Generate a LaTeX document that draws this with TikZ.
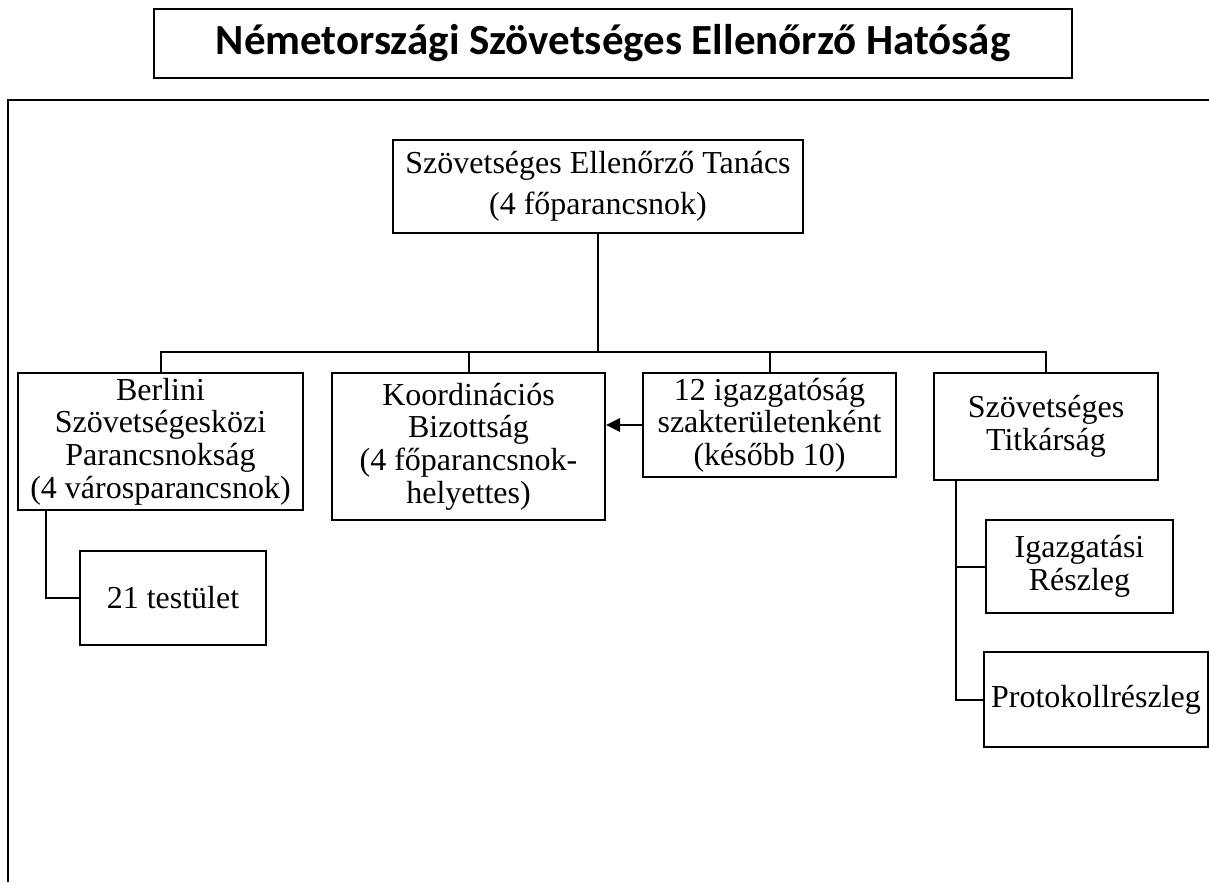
\documentclass[tikz,border=0pt]{standalone}
\usepackage{fontspec}
\setmainfont{Liberation Serif}
\newfontfamily\titlefont{Carlito}
\usetikzlibrary{arrows.meta,calc}
\begin{document}
\begin{tikzpicture}[x=0.75pt,y=-0.75pt,
  box/.style={draw,line width=1.5pt,inner sep=0pt,align=center,
    font=\fontsize{24}{24.5}\selectfont},
  conn/.style={line width=1.5pt},
]
\useasboundingbox (0,0) rectangle (1209,882);
% title
\node[draw,line width=1.5pt,inner sep=0pt,minimum width=688.5pt,minimum height=51.75pt,
  font=\titlefont\bfseries\fontsize{32.2}{36}\selectfont] (title) at (613,43.5)
  {Németországi Szövetséges Ellenőrző Hatóság};
% frame
\draw[line width=1.5pt] (8,882) -- (8,100) -- (1209,100);
% boxes
\node[box,minimum width=307.5pt,minimum height=69.75pt,
  font=\fontsize{24}{31}\selectfont] (tan) at (598,186.5)
  {Szövetséges Ellenőrző Tanács\\(4 főparancsnok)};
\node[box,minimum width=213.75pt,minimum height=102.75pt] (ber) at (160.5,441.5)
  {Berlini\\Szövetségesközi\\Parancsnokság\\(4 városparancsnok)};
\node[box,minimum width=204.75pt,minimum height=110.25pt] (koo) at (468.5,446.5)
  {Koordinációs\\Bizottság\\(4 főparancsnok-\\helyettes)};
\node[box,minimum width=189.75pt,minimum height=78pt] (igz) at (769.5,425)
  {12 igazgatóság\\szakterületenként\\(később 10)};
\node[box,minimum width=168pt,minimum height=80.25pt] (tit) at (1046,426.5)
  {Szövetséges\\Titkárság};
\node[box,minimum width=139.5pt,minimum height=70.5pt] (tst) at (173,598)
  {21 testület};
\node[box,minimum width=140.25pt,minimum height=69.75pt] (igr) at (1079.5,566.5)
  {Igazgatási\\Részleg};
\node[box,minimum width=168pt,minimum height=71.25pt] (pro) at (1096,699.5)
  {Protokollrészleg};
% connectors
\coordinate (bus) at ($(ber.north)+(0,-20)$);
\draw[conn] (ber.north) -- (bus) -| (tit.north);
\draw[conn] (tan.south) -- (tan.south |- bus);
\draw[conn] (koo.north) -- (koo.north |- bus);
\draw[conn] (igz.north) -- (igz.north |- bus);
\draw[conn] ($(ber.south west)+(29,0)$) |- (tst.west);
\draw[conn] ($(tit.south west)+(23,0)$) |- (igr.west);
\draw[conn] ($(tit.south west)+(23,0)$) |- (pro.west);
\draw[conn,-{Triangle[length=10.5pt,width=10pt]}] (igz.west) -- (igz.west -| koo.east);
\end{tikzpicture}
\end{document}
